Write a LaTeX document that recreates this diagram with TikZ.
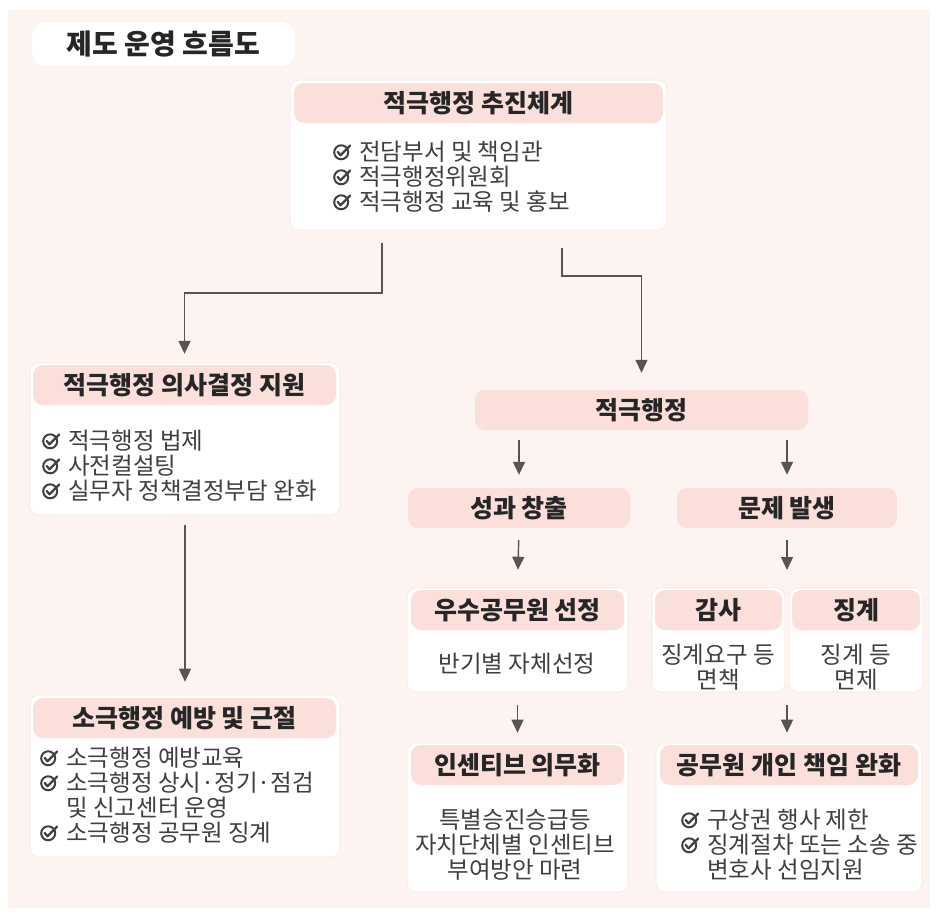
\documentclass[tikz,border=0pt]{standalone}
\usepackage{fontspec}
\setmainfont{Noto Sans CJK KR}
\usetikzlibrary{arrows.meta,calc}
\definecolor{bgc}{HTML}{FDF3F0}
\definecolor{hdrc}{HTML}{FADFDA}
\definecolor{bodyline}{HTML}{F5E6E2}
\definecolor{txt}{HTML}{404040}
\definecolor{hdrtxt}{HTML}{262626}
\definecolor{arrc}{HTML}{555555}
\newcommand{\chk}{\tikz[baseline=-8.5pt,x=1pt,y=1pt,line cap=round,line join=round]{\draw[line width=2pt,txt] (0,0) circle (7);\draw[line width=2.2pt,txt] (-3.6,0.4) -- (-0.7,-3) -- (9,6.8);}\hspace{8pt}}
\begin{document}
\begin{tikzpicture}[x=1pt,y=-1pt,
 body/.style={fill=white, draw=bodyline, line width=0.6pt, rounded corners=9pt, inner sep=0pt},
 hdr/.style={fill=hdrc, rounded corners=10pt, inner sep=0pt, font=\bfseries\fontsize{25}{28}\selectfont, text=hdrtxt},
 item/.style={font=\fontsize{23.5}{25}\selectfont, text=txt, align=left, inner sep=0pt, anchor=west},
 ctr/.style={font=\fontsize{23.5}{25}\selectfont, text=txt, align=center, inner sep=0pt},
 arw/.style={draw=arrc, line width=1.4pt, -{Triangle[width=12pt,length=13pt]}}]
\fill[white] (0,0) rectangle (936,913);
\fill[bgc] (8,10) rectangle (930,908);
\useasboundingbox (0,0) rectangle (936,913);

% title
\node[fill=white, rounded corners=14pt, minimum width=263pt, minimum height=44pt, inner sep=0pt, font=\bfseries\fontsize{28}{32}\selectfont, text=hdrtxt] (title) at (163.5,44) {제도 운영 흐름도};

% box 1
\node[body, minimum width=377pt, minimum height=150pt] (b1) at (478.5,155) {};
\node[hdr, minimum width=369pt, minimum height=40pt] (b1h) at (478.5,103) {적극행정 추진체계};
\node[item] (b1t) at (333,177) {\chk 전담부서 및 책임관\\\chk 적극행정위원회\\\chk 적극행정 교육 및 홍보};

% box 2
\node[body, minimum width=310pt, minimum height=152pt] (b2) at (185,439) {};
\node[hdr, minimum width=303pt, minimum height=40pt] (b2h) at (184.5,385) {적극행정 의사결정 지원};
\node[item] (b2t) at (42,466) {\chk 적극행정 법제\\\chk 사전컬설팅\\\chk 실무자 정책결정부담 완화};

% box 3
\node[body, minimum width=310pt, minimum height=162pt] (b3) at (185,776) {};
\node[hdr, minimum width=303pt, minimum height=40pt] (b3h) at (184.5,718) {소극행정 예방 및 근절};
\node[item] (b3t) at (40,795.5) {\chk 소극행정 예방교육\\\chk 소극행정 상시·정기·점검\\\phantom{\chk}및 신고센터 운영\\\chk 소극행정 공무원 징계};

% 적극행정
\node[hdr, minimum width=333pt, minimum height=40pt] (jg) at (641.5,410) {적극행정};
\node[hdr, minimum width=222pt, minimum height=40pt] (sg) at (519,508) {성과 창출};
\node[hdr, minimum width=220pt, minimum height=40pt] (mj) at (787,508) {문제 발생};

% 우수공무원 선정
\node[body, minimum width=221pt, minimum height=104pt] (wu) at (517.5,640) {};
\node[hdr, minimum width=213pt, minimum height=40pt] (wuh) at (517.5,610) {우수공무원 선정};
\node[ctr] (wut) at (517,664) {반기별 자체선정};

% 감사
\node[body, minimum width=133pt, minimum height=104pt] (gs) at (718.5,640) {};
\node[hdr, minimum width=127pt, minimum height=40pt] (gsh) at (718.5,610) {감사};
\node[ctr] (gst) at (718,667) {징계요구 등\\면책};

% 징계
\node[body, minimum width=134pt, minimum height=104pt] (jy) at (856,640) {};
\node[hdr, minimum width=128pt, minimum height=40pt] (jyh) at (856,610) {징계};
\node[ctr] (jyt) at (856,667) {징계 등\\면제};

% 인센티브 의무화
\node[body, minimum width=221pt, minimum height=149pt] (in) at (517.5,817.5) {};
\node[hdr, minimum width=213pt, minimum height=40pt] (inh) at (517.5,765) {인센티브 의무화};
\node[ctr] (int) at (515,845) {특별승진승급등\\자치단체별 인센티브\\부여방안 마련};

% 공무원 개인 책임 완화
\node[body, minimum width=266pt, minimum height=149pt] (gw) at (789,817.5) {};
\node[hdr, minimum width=258pt, minimum height=40pt] (gwh) at (789,765) {공무원 개인 책임 완화};
\node[item] (gwt) at (681,845) {\chk 구상권 행사 제한\\\chk 징계절차 또는 소송 중\\\phantom{\chk}변호사 선임지원};

% connectors
\coordinate (s1) at (382,243);
\draw[arw, shorten >=11pt] (s1) -- ++(0,50) -| (b2h.north);
\coordinate (s2) at (562,248);
\draw[arw, shorten >=17pt] (s2) -- ++(0,28) -| (jg.north);
\draw[arw, shorten <=10pt, shorten >=13pt] (b2.south) -- (b3.north);
\draw[arw, shorten <=10pt, shorten >=13pt] (jg.south -| sg.north) -- (sg.north);
\draw[arw, shorten <=10pt, shorten >=13pt] (jg.south -| mj.north) -- (mj.north);
\draw[arw, shorten <=12pt, shorten >=18pt] (sg.south) -- (wu.north);
\coordinate (m1) at (787,588);
\draw[arw, shorten <=12pt, shorten >=18pt] (mj.south) -- (m1);
\draw[arw, shorten <=13pt, shorten >=10pt] (wu.south) -- (in.north);
\coordinate (m2) at (787,692);
\draw[arw, shorten <=13pt, shorten >=10pt] (m2) -- (gw.north -| m2);
\end{tikzpicture}
\end{document}
